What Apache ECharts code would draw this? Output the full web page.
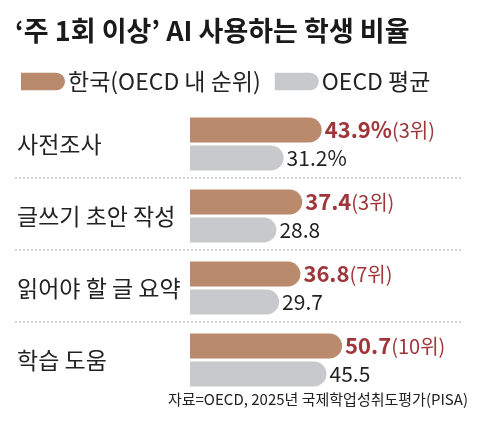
<!DOCTYPE html>
<html><head><meta charset="utf-8">
<script src="https://cdn.jsdelivr.net/npm/echarts@6/dist/echarts.min.js"></script>
<style>body{margin:0;background:#fff}#c{width:480px;height:425px}</style></head>
<body><div id="c"></div>
<script>
const categories = ['사전조사','글쓰기 초안 작성','읽어야 할 글 요약','학습 도움'];
const korea = [43.9, 37.4, 36.8, 50.7];
const koreaRank = ['3위','3위','7위','10위'];
const oecd = [31.2, 28.8, 29.7, 45.5];
const pctSuffix = ['%','','',''];
const chart = echarts.init(document.getElementById('c'));
const F = '"Noto Sans CJK KR", sans-serif';
const top0 = 108, band = 72;
const lines = [1,2,3].map(i => ({type:'line', shape:{x1:15, y1:top0+band*i-2, x2:463, y2:top0+band*i-2},
  style:{stroke:'#aaa', lineWidth:1, lineDash:[2,2]}}));
chart.setOption({
  animation:false,
  title:{text:'‘주 1회 이상’ AI 사용하는 학생 비율', left:10, top:12,
    textStyle:{fontFamily:F, fontSize:27, fontWeight:'bold', color:'#1a1a1a'}},
  legend:{left:16, top:65, itemWidth:44, itemHeight:24, itemGap:14,
    icon:'path://M0,0 H80 A20,20 0 0 1 80,40 H0 Z',
    textStyle:{fontFamily:F, fontSize:23, color:'#222', padding:[0,0,0,-2]}},
  graphic: lines.concat([{type:'text', right:12, top:392,
    style:{text:'자료=OECD, 2025년 국제학업성취도평가(PISA)', font:'15px '+F, fill:'#222'}}]),
  grid:{left:190, top:top0, width:288, height:band*4},
  xAxis:{type:'value', min:0, max:96, show:false},
  yAxis:{type:'category', inverse:true, data:categories,
    axisLine:{show:false}, axisTick:{show:false},
    axisLabel:{align:'left', margin:173, fontFamily:F, fontSize:23, color:'#222'}},
  series:[
    {name:'한국(OECD 내 순위)', type:'bar', data:korea, barWidth:25, barGap:'12%',
     itemStyle:{color:'#b98a6c', borderRadius:[0,13,13,0]},
     label:{show:true, position:'right', distance:3,
       formatter:p=>'{v|'+p.value+pctSuffix[p.dataIndex]+'}{r|('+koreaRank[p.dataIndex]+')}',
       rich:{v:{fontFamily:F, fontSize:22, fontWeight:'bold', color:'#a0363a'},
             r:{fontFamily:F, fontSize:20, color:'#a0363a'}}}},
    {name:'OECD 평균', type:'bar', data:oecd, barWidth:25,
     itemStyle:{color:'#c8c9cd', borderRadius:[0,13,13,0]},
     label:{show:true, position:'right', distance:3,
       formatter:p=>p.value+pctSuffix[p.dataIndex],
       fontFamily:F, fontSize:21, color:'#222'}}
  ]
});
</script></body></html>
